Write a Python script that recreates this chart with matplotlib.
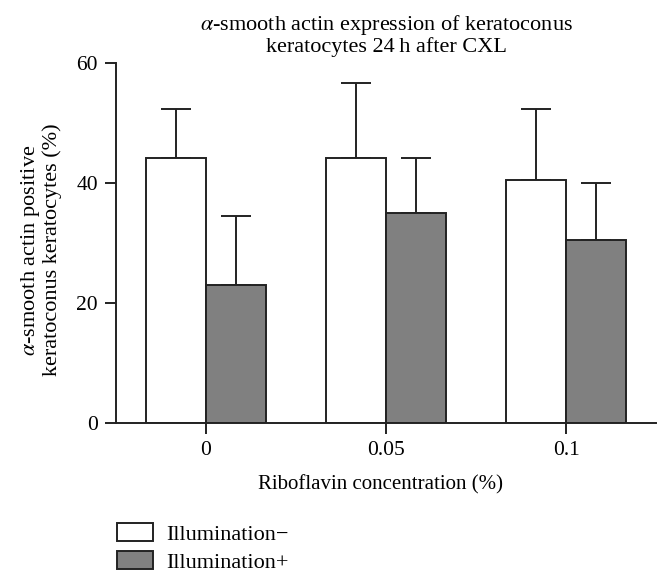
import matplotlib
matplotlib.use("Agg")
import matplotlib.pyplot as plt
import numpy as np
from matplotlib.patches import Patch

categories = ["0", "0.05", "0.1"]
illum_minus = [44.1, 44.1, 40.45]
illum_minus_sd = [8.3, 12.6, 11.9]
illum_plus = [23.0, 35.0, 30.45]
illum_plus_sd = [11.5, 9.2, 9.6]
series_names = ["Illumination\u2212", "Illumination+"]
yticks = [0, 20, 40, 60]

plt.rcParams['font.family'] = ['Liberation Serif', 'DejaVu Serif']
plt.rcParams['mathtext.fontset'] = 'stix'

W, H = 670, 584
fig = plt.figure(figsize=(W / 100, H / 100), dpi=100)
ax = fig.add_axes([116 / W, (H - 423) / H, 540 / W, 360 / H])

x = np.arange(len(categories))
bw = 1 / 3
gray = "#808080"
ec = "#222222"
lw = 1.4

ax.bar(x - bw / 2, illum_minus, width=bw, color="white", edgecolor=ec, linewidth=lw, zorder=2)
ax.bar(x + bw / 2, illum_plus, width=bw, color=gray, edgecolor=ec, linewidth=lw, zorder=2)
ax.errorbar(x - bw / 2, illum_minus, yerr=[np.zeros(3), illum_minus_sd], fmt='none',
            ecolor=ec, elinewidth=lw, capsize=10.8, capthick=lw, zorder=1)
ax.errorbar(x + bw / 2, illum_plus, yerr=[np.zeros(3), illum_plus_sd], fmt='none',
            ecolor=ec, elinewidth=lw, capsize=10.8, capthick=lw, zorder=1)

ax.set_xlim(-0.5, 2.5)
ax.set_ylim(0, 60)
ax.set_yticks(yticks)
ax.set_xticks(x)
ax.set_xticklabels(categories)
for s in ["top", "right"]:
    ax.spines[s].set_visible(False)
for s in ["left", "bottom"]:
    ax.spines[s].set_linewidth(lw)
    ax.spines[s].set_color(ec)
ax.tick_params(axis='both', direction='out', length=8, width=lw, color=ec, labelsize=15.5, pad=5)

ax.set_xlabel("Riboflavin concentration (%)", fontsize=15)
ax.xaxis.set_label_coords((380 - 116) / 540, -(489 - 423) / 360)
ax.xaxis.label.set_va('baseline')
ax.set_ylabel("$\\alpha$-smooth actin positive\nkeratoconus keratocytes (%)", fontsize=16,
              linespacing=1.05)
ax.yaxis.set_label_coords(-(116 - 62) / 540, (423 - 250) / 360)

fig.text(386 / W, 1 - 35 / H, "$\\alpha$-smooth actin expression of keratoconus\nkeratocytes 24\u2009h after CXL",
         ha='center', va='center', fontsize=16, linespacing=1.05)

handles = [Patch(facecolor="white", edgecolor=ec, linewidth=lw),
           Patch(facecolor=gray, edgecolor=ec, linewidth=lw)]
fig.legend(handles, series_names, loc='upper left', bbox_to_anchor=(108 / W, 1 - 514 / H),
           frameon=False, fontsize=16, handlelength=1.62, handleheight=0.9,
           labelspacing=0.28, handletextpad=0.62, borderaxespad=0)

fig.savefig("out.png", dpi=100)
